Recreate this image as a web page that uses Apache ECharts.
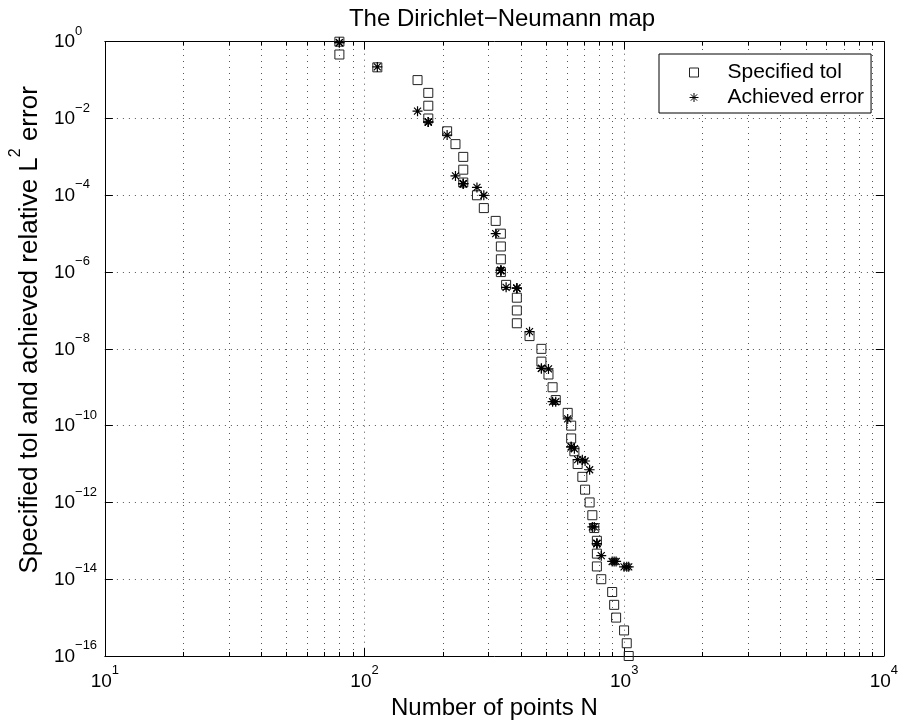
<!DOCTYPE html>
<html>
<head>
<meta charset="utf-8">
<script src="https://cdn.jsdelivr.net/npm/echarts@6/dist/echarts.min.js"></script>
<style>
html,body{margin:0;padding:0;background:#fff;}
#chart{width:901px;height:725px;}
</style>
</head>
<body>
<div id="chart"></div>
<script>
// Number of points N used for each specified tolerance
const nPoints = [80, 80, 112, 160, 176, 176, 176, 208, 224, 240, 240, 240,
  271, 288, 320, 335, 335, 335, 335, 351, 386, 386, 386, 432, 480, 480,
  511, 530, 545, 606, 625, 625, 643, 662, 690, 707, 736, 754, 767, 785,
  785, 785, 816, 899, 915, 931, 999, 1023, 1041];

// Specified tolerance (squares)
const specifiedTol = [1, 4.64e-1, 2.15e-1, 1e-1, 4.64e-2, 2.15e-2, 1e-2,
  4.64e-3, 2.15e-3, 1e-3, 4.64e-4, 2.15e-4, 1e-4, 4.64e-5, 2.15e-5, 1e-5,
  4.64e-6, 2.15e-6, 1e-6, 4.64e-7, 2.15e-7, 1e-7, 4.64e-8, 2.15e-8, 1e-8,
  4.64e-9, 2.15e-9, 1e-9, 4.64e-10, 2.15e-10, 1e-10, 4.64e-11, 2.15e-11, 1e-11,
  4.64e-12, 2.15e-12, 1e-12, 4.64e-13, 2.15e-13, 1e-13, 4.64e-14, 2.15e-14, 1e-14,
  4.64e-15, 2.15e-15, 1e-15, 4.64e-16, 2.15e-16, 1e-16];

// Achieved relative L2 error (asterisks)
const achievedError = [9.5e-1, 9.5e-1, 2.2e-1, 1.55e-2, 8.1e-3, 8.1e-3, 8.1e-3,
  3.7e-3, 3.2e-4, 2.0e-4, 2.0e-4, 2.0e-4, 1.6e-4, 1.0e-4, 1.0e-5, 1.1e-6,
  1.1e-6, 1.1e-6, 1.1e-6, 4.0e-7, 3.8e-7, 3.8e-7, 3.8e-7, 2.8e-8, 3.1e-9,
  3.1e-9, 3.0e-9, 4.2e-10, 4.2e-10, 1.5e-10, 2.8e-11, 2.8e-11, 2.5e-11,
  1.3e-11, 1.3e-11, 1.2e-11, 7.1e-12, 2.3e-13, 2.3e-13, 8.5e-14, 8.5e-14,
  8.5e-14, 4.1e-14, 2.9e-14, 2.9e-14, 2.9e-14, 2.1e-14, 2.1e-14, 2.1e-14];

// Minor x grid/tick positions
const xMinorTicks = [20, 30, 40, 50, 60, 70, 80, 90,
  200, 300, 400, 500, 600, 700, 800, 900,
  2000, 3000, 4000, 5000, 6000, 7000, 8000, 9000];

const xRange = [10, 10000];
const yRange = [1e-16, 1];

const FONT = "'Liberation Sans', Arial, Helvetica, sans-serif";
const GRID_COLOR = '#555';
const GRID_DASH = [1, 5];
const STAR = 'path://M0,-5L0,5M-5,0L5,0M-3.5,-3.5L3.5,3.5M-3.5,3.5L3.5,-3.5';

function expLabel(v) {
  const e = Math.round(Math.log10(v));
  const s = e < 0 ? '\u2212' + (-e) : String(e);
  return '{b|10}{e|' + s + '}';
}

const tickRich = {
  b: {fontFamily: FONT, fontSize: 19, lineHeight: 20, verticalAlign: 'bottom', color: '#000'},
  e: {fontFamily: FONT, fontSize: 13, lineHeight: 14, padding: [0, 0, 14, 0], verticalAlign: 'bottom', color: '#000'}
};

const chart = echarts.init(document.getElementById('chart'), null, {renderer: 'canvas'});

const squareData = nPoints.map((n, i) => [n, specifiedTol[i]]);
const starData = nPoints.map((n, i) => [n, achievedError[i]]);

const option = {
  animation: false,
  backgroundColor: '#fff',
  textStyle: {fontFamily: FONT, color: '#000'},
  title: {
    text: 'The Dirichlet\u2212Neumann map',
    left: 497,
    textAlign: 'center',
    top: 2,
    textStyle: {fontFamily: FONT, fontSize: 24, fontWeight: 'normal', color: '#000'}
  },
  grid: {left: 101.5, right: 15.5, top: 41.7, bottom: 64.3, containLabel: false},
  legend: {
    data: ['Specified tol', 'Achieved error'],
    orient: 'vertical',
    left: 659,
    top: 54,
    padding: [8, 7, 5, 30],
    itemGap: 4,
    itemWidth: 9,
    itemHeight: 9,
    backgroundColor: '#fff',
    borderColor: '#000',
    borderWidth: 1,
    itemStyle: {borderWidth: 1},
    textStyle: {fontFamily: FONT, fontSize: 21, color: '#000', padding: [0, 0, 0, 24]}
  },
  xAxis: [{
    type: 'log', logBase: 10, min: xRange[0], max: xRange[1], interval: 1,
    position: 'bottom',
    name: 'Number of points N', nameLocation: 'middle', nameGap: 40,
    nameTextStyle: {fontFamily: FONT, fontSize: 24, color: '#000'},
    axisLine: {show: true, onZero: false, lineStyle: {color: '#000', width: 1}},
    axisTick: {show: true, inside: true, length: 8, lineStyle: {color: '#000', width: 1}},
    minorTick: {show: false},
    splitLine: {show: true, lineStyle: {color: GRID_COLOR, width: 1, type: GRID_DASH}},
    axisLabel: {show: true, margin: 15, formatter: expLabel, color: '#000', rich: tickRich}
  }, {
    type: 'log', logBase: 10, min: xRange[0], max: xRange[1], interval: 1,
    position: 'top',
    axisLine: {show: true, onZero: false, lineStyle: {color: '#000', width: 1}},
    axisTick: {show: true, inside: true, length: 8, lineStyle: {color: '#000', width: 1}},
    splitLine: {show: false},
    axisLabel: {show: false}
  }],
  yAxis: [{
    type: 'log', logBase: 10, min: yRange[0], max: yRange[1], interval: 2,
    position: 'left',
    name: '{a|Specified tol and achieved relative L}{s|2}{a| error}',
    nameLocation: 'middle', nameGap: 60,
    nameTextStyle: {
      fontFamily: FONT, fontSize: 26, color: '#000', padding: [0, 0, 0, 38],
      rich: {
        a: {fontFamily: FONT, fontSize: 26, lineHeight: 27, verticalAlign: 'bottom', color: '#000'},
        s: {fontFamily: FONT, fontSize: 16, lineHeight: 16, padding: [0, 0, 19, 0], verticalAlign: 'bottom', color: '#000'}
      }
    },
    axisLine: {show: true, onZero: false, lineStyle: {color: '#000', width: 1}},
    axisTick: {show: true, inside: true, length: 8, lineStyle: {color: '#000', width: 1}},
    splitLine: {show: true, lineStyle: {color: GRID_COLOR, width: 1, type: GRID_DASH}},
    axisLabel: {
      show: true, margin: 51, align: 'left', verticalAlign: 'middle',
      formatter: expLabel, color: '#000', rich: tickRich
    }
  }, {
    type: 'log', logBase: 10, min: yRange[0], max: yRange[1], interval: 2,
    position: 'right',
    axisLine: {show: true, onZero: false, lineStyle: {color: '#000', width: 1}},
    axisTick: {show: true, inside: true, length: 8, lineStyle: {color: '#000', width: 1}},
    splitLine: {show: false},
    axisLabel: {show: false}
  }],
  series: [{
    type: 'custom',
    name: 'minorGrid',
    xAxisIndex: 0, yAxisIndex: 0,
    silent: true,
    z: 1,
    data: xMinorTicks.map(v => [v, yRange[1]]),
    encode: {x: 0, y: 1},
    renderItem: function (params, api) {
      const x = api.value(0);
      const b = api.coord([x, yRange[0]]);
      const t = api.coord([x, yRange[1]]);
      const px = Math.round(b[0]) + 0.5;
      return {
        type: 'group',
        children: [
          {type: 'line', shape: {x1: px, y1: b[1], x2: px, y2: t[1]},
            style: {stroke: GRID_COLOR, lineWidth: 1, lineDash: GRID_DASH}},
          {type: 'line', shape: {x1: px, y1: b[1], x2: px, y2: b[1] - 4},
            style: {stroke: '#000', lineWidth: 1}},
          {type: 'line', shape: {x1: px, y1: t[1], x2: px, y2: t[1] + 4},
            style: {stroke: '#000', lineWidth: 1}}
        ]
      };
    }
  }, {
    type: 'scatter',
    name: 'Specified tol',
    xAxisIndex: 0, yAxisIndex: 0,
    data: squareData,
    symbol: 'rect',
    symbolSize: 9,
    z: 3,
    itemStyle: {color: 'rgba(0,0,0,0)', borderColor: '#222', borderWidth: 1, opacity: 1},
    emphasis: {disabled: true}
  }, {
    type: 'scatter',
    name: 'Achieved error',
    xAxisIndex: 0, yAxisIndex: 0,
    data: starData,
    symbol: STAR,
    symbolSize: 10,
    z: 4,
    itemStyle: {color: 'rgba(0,0,0,0)', borderColor: '#000', borderWidth: 1.2, opacity: 1},
    emphasis: {disabled: true}
  }]
};

chart.setOption(option);
</script>
</body>
</html>
